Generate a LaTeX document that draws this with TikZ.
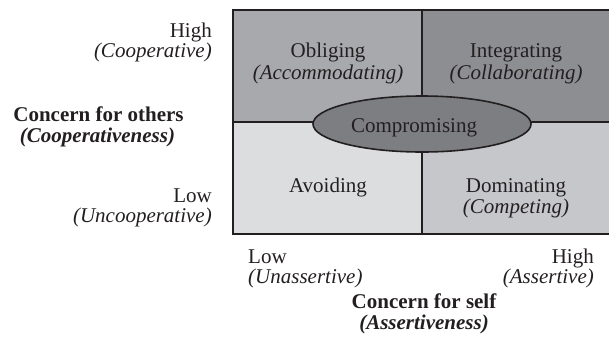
\documentclass[tikz,border=0pt]{standalone}
\usepackage{fontspec}
\setmainfont{Liberation Serif}
\usetikzlibrary{shapes.geometric}
\definecolor{cOblig}{HTML}{A8A9AC}
\definecolor{cInteg}{HTML}{8D8E91}
\definecolor{cAvoid}{HTML}{DCDDDF}
\definecolor{cDomin}{HTML}{C6C7CA}
\definecolor{cComp}{HTML}{7D7E81}
\definecolor{cLine}{HTML}{231F20}
\definecolor{cText}{HTML}{231F20}
\tikzset{
  quad/.style={draw=cLine, line width=1.6pt},
  lbl/.style={inner sep=0pt, anchor=base, text=cText, font=\fontsize{21}{24}\selectfont},
  lblr/.style={lbl, anchor=base east},
  lbll/.style={lbl, anchor=base west},
}
\begin{document}
\begin{tikzpicture}[x=1pt,y=-1pt]
\useasboundingbox (0,0) rectangle (609,338);
% quadrants
\fill[cOblig] (233,10) rectangle (422,122);
\fill[cInteg] (422,10) rectangle (614,122);
\fill[cAvoid] (233,122) rectangle (422,234);
\fill[cDomin] (422,122) rectangle (614,234);
\coordinate (tl) at (233,10);
\coordinate (br) at (614,234);
\coordinate (mt) at (422,10);
\coordinate (mb) at (422,234);
\coordinate (ml) at (233,122);
\coordinate (mr) at (614,122);
\draw[quad] (mt) -- (mb);
\draw[quad] (ml) -- (mr);
\draw[quad] (tl) rectangle (br);
\node[ellipse, draw=cLine, line width=1.6pt, fill=cComp, minimum width=218pt, minimum height=56pt, inner sep=0pt] (comp) at (422,124) {};
\node[lbl] (comptxt) at (414,132) {Compromising};
% quadrant labels
\node[lbl] (obl) at (328,57) {Obliging};
\node[lbl] (obl2) at (328,79) {\itshape (Accommodating)};
\node[lbl] (int) at (516,57) {Integrating};
\node[lbl] (int2) at (516,79) {\itshape (Collaborating)};
\node[lbl] (avo) at (328,192) {Avoiding};
\node[lbl] (dom) at (516,192) {Dominating};
\node[lbl] (dom2) at (516,213) {\itshape (Competing)};
% left axis
\node[lblr] (hi) at (212,37) {High};
\node[lblr] (hi2) at (212,57) {\itshape (Cooperative)};
\node[lbl] (cfo) at (98.5,121) {\bfseries Concern for others};
\node[lbl] (cfo2) at (97.5,142) {\bfseries\itshape (Cooperativeness)};
\node[lblr] (lo) at (212,202) {Low};
\node[lblr] (lo2) at (212,222) {\itshape (Uncooperative)};
% bottom axis
\node[lbll] (blo) at (248,263) {Low};
\node[lbll] (blo2) at (248,283) {\itshape (Unassertive)};
\node[lblr] (bhi) at (594,263) {High};
\node[lblr] (bhi2) at (594,283) {\itshape (Assertive)};
\node[lbl] (cfs) at (424,308) {\bfseries Concern for self};
\node[lbl] (cfs2) at (424,329) {\bfseries\itshape (Assertiveness)};
\end{tikzpicture}
\end{document}
